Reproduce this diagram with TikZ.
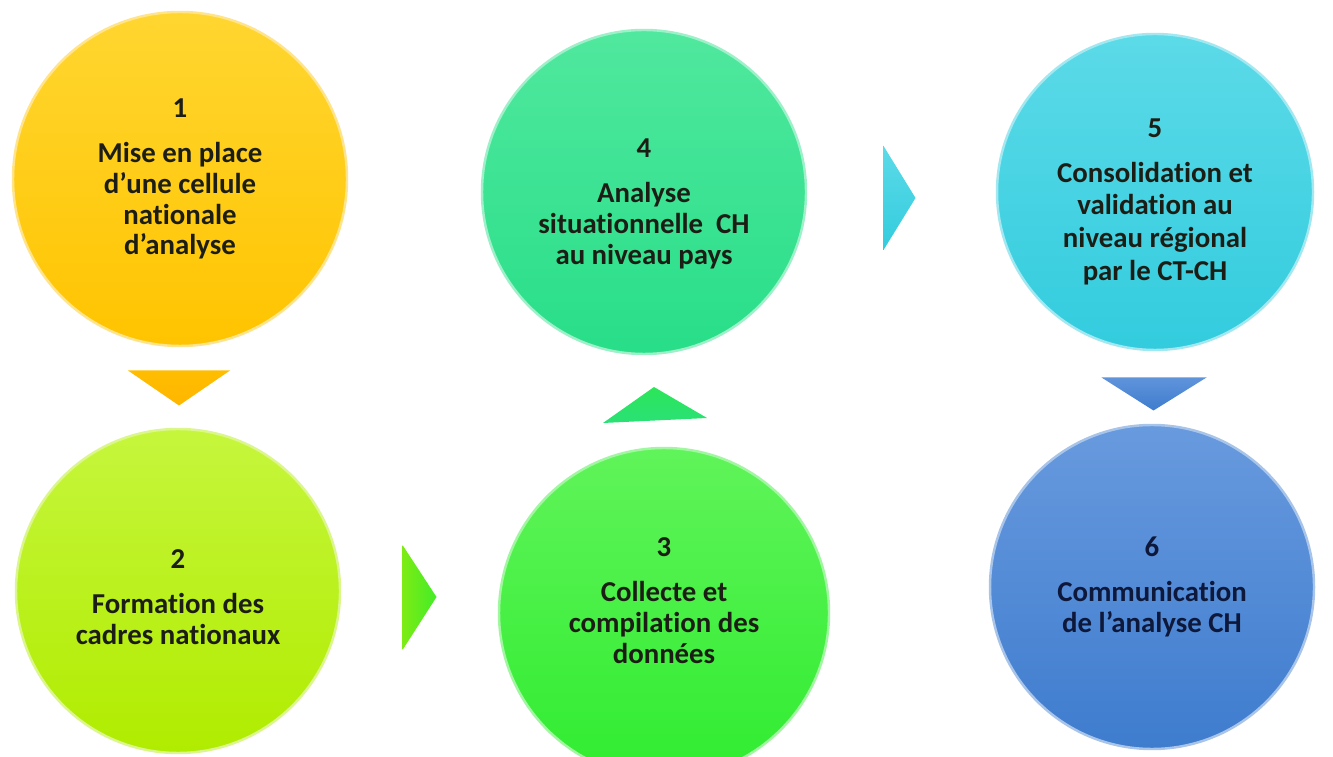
\documentclass[tikz,border=0pt]{standalone}
\usepackage{fontspec}
\setmainfont{Carlito}[Ligatures=NoCommon]
\usetikzlibrary{calc}
\definecolor{jaune}{RGB}{255,196,0}
\definecolor{jauneclair}{RGB}{255,214,48}
\definecolor{lime}{RGB}{176,236,0}
\definecolor{limeclair}{RGB}{198,246,60}
\definecolor{vert}{RGB}{48,236,48}
\definecolor{vertclair}{RGB}{96,244,90}
\definecolor{emeraude}{RGB}{40,222,136}
\definecolor{emeraudeclair}{RGB}{80,232,158}
\definecolor{turquoise}{RGB}{50,204,222}
\definecolor{turquoiseclair}{RGB}{92,218,232}
\definecolor{bleu}{RGB}{62,124,206}
\definecolor{bleuclair}{RGB}{104,154,222}
\definecolor{texte}{RGB}{28,30,22}
\definecolor{textebleu}{RGB}{14,24,58}

\begin{document}
\begin{tikzpicture}[x=0.2mm, y=0.2mm,
  etape/.style={circle, line width=1.4pt, minimum size=6.48cm, inner sep=0pt, align=center,
    text=texte, font=\fontsize{16.4}{17.6}\selectfont\bfseries}]
  \useasboundingbox (0,0) rectangle (1333,756);
  \fill[white] (0,0) rectangle (1333,756);
  \clip (0,0) rectangle (1333,756);

  % les six etapes
  \node[etape, minimum size=6.68cm, top color=jauneclair, bottom color=jaune, draw=jaune!45!white] (e1) at (180,577)
    {1\\[8pt]Mise en place\\d’une cellule\\nationale\\d’analyse};
  \node[etape, top color=limeclair, bottom color=lime, draw=lime!45!white] (e2) at (178,165)
    {\mbox{}\\[0pt]2\\[8pt]Formation des\\cadres nationaux};
  \node[etape, minimum size=6.6cm, top color=vertclair, bottom color=vert, draw=vert!45!white] (e3) at (664,143)
    {3\\[8pt]Collecte et\\compilation des\\données\\[-3pt]\mbox{}};
  \node[etape, top color=emeraudeclair, bottom color=emeraude, draw=emeraude!45!white] (e4) at (644,564)
    {\mbox{}\\[6.4pt]4\\[8pt]Analyse\\situationnelle\ \ CH\\au niveau pays};
  \node[etape, minimum size=6.32cm, top color=turquoiseclair, bottom color=turquoise, draw=turquoise!45!white] (e5) at (1155,564)
    {\mbox{}\\[4pt]5\\[8pt]Consolidation et\\[1pt]validation au\\[1pt]niveau régional\\[1pt]par le CT-CH};
  \node[etape, text=textebleu, top color=bleuclair, bottom color=bleu, draw=bleu!45!white] (e6) at (1152,169)
    {6\\[8pt]Communication\\de l’analyse CH};

  % fleches entre les etapes
  \coordinate (f12) at ($(e1.south)!0.5!(e2.north)$);
  \coordinate (f23) at ($(e2.east)!0.5!(e3.west)$);
  \coordinate (f34) at ($(e3.north)!0.5!(e4.south)$);
  \coordinate (f45) at ($(e4.east)!0.5!(e5.west)$);
  \coordinate (f56) at ($(e5.south)!0.5!(e6.north)$);

  \shade[top color=jaune!90!orange, bottom color=jaune!80!orange] ($(f12)+(-51,17)$) -- ($(f12)+(51,17)$) -- ($(f12)+(0,-18)$) -- cycle;
  \shade[left color=lime!60!vert, right color=vert!85!lime] ($(f23)+(-17,57)$) -- ($(f23)+(-17,-48)$) -- ($(f23)+(17,5)$) -- cycle;
  \shade[top color=vert!55!emeraude, bottom color=emeraude!80!vert] ($(f34)+(-51,-22)$) -- ($(f34)+(53,-17)$) -- ($(f34)+(0,14)$) -- cycle;
  \shade[top color=turquoiseclair, bottom color=turquoise] ($(f45)+(-18,46)$) -- ($(f45)+(-18,-58)$) -- ($(f45)+(14,-6)$) -- cycle;
  \shade[top color=bleuclair!80!bleu, bottom color=bleu] ($(f56)+(-52,10)$) -- ($(f56)+(53,10)$) -- ($(f56)+(0,-23)$) -- cycle;
\end{tikzpicture}
\end{document}
